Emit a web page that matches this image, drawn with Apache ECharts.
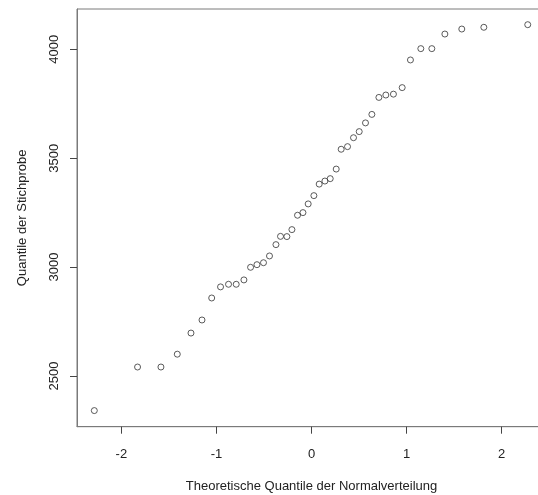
<!DOCTYPE html>
<html>
<head>
<meta charset="utf-8">
<script src="https://cdn.jsdelivr.net/npm/echarts@6/dist/echarts.min.js"></script>
<style>html,body{margin:0;padding:0;background:#fff}#c{width:538px;height:495px}</style>
</head>
<body>
<div id="c"></div>
<script>
// Theoretical quantiles
const theoretical = [-2.285,-1.83,-1.584,-1.412,-1.268,-1.152,-1.05,-0.957,-0.873,-0.792,-0.711,-0.641,-0.574,-0.505,-0.442,-0.374,-0.326,-0.259,-0.206,-0.147,-0.09,-0.035,
  0.025,0.081,0.141,0.197,0.26,0.312,0.379,0.442,0.502,0.568,0.635,0.709,0.782,0.862,0.954,1.041,1.15,1.266,1.403,1.581,1.813,2.275];
// Sample quantiles
const sample = [2341,2541,2541,2600,2697,2757,2858,2909,2921,2921,2941,2999,3011,3020,3051,3103,3141,3140,3172,3238,3250,3290,
  3328,3381,3395,3406,3450,3541,3553,3594,3622,3662,3701,3779,3790,3794,3824,3951,4003,4003,4070,4093,4101,4113];
const xTicks = [-2,-1,0,1,2];
const yTicks = [2500,3000,3500,4000];
const xTitle = 'Theoretische Quantile der Normalverteilung';
const yTitle = 'Quantile der Stichprobe';

const points = theoretical.map((x,i)=>[x,sample[i]]);
const chart = echarts.init(document.getElementById('c'), null, {renderer:'canvas'});
const font = 'Liberation Sans, Arial, sans-serif';
const axisCol = '#7a7a7a';
chart.setOption({
  animation:false,
  backgroundColor:'#fff',
  grid:{left:77, top:9, width:469, height:417.7, containLabel:false, outerBoundsMode:'none',
    show:true, borderColor:axisCol, borderWidth:1, backgroundColor:'transparent'},
  xAxis:{
    type:'value', min:-2.467, max:2.467,
    splitLine:{show:false},
    axisLine:{show:true, onZero:false, lineStyle:{color:axisCol}},
    axisTick:{show:true, length:7, inside:false, customValues:xTicks, lineStyle:{color:'#444'}},
    axisLabel:{customValues:xTicks, margin:21, color:'#222', fontFamily:font, fontSize:13, formatter:v=>String(v)},
    name:xTitle, nameLocation:'middle', nameGap:53,
    nameTextStyle:{color:'#222', fontFamily:font, fontSize:13}
  },
  yAxis:{
    type:'value', min:2267, max:4185,
    splitLine:{show:false},
    axisLine:{show:true, onZero:false, lineStyle:{color:axisCol}},
    axisTick:{show:true, length:7, inside:false, customValues:yTicks, lineStyle:{color:'#444'}},
    axisLabel:{customValues:yTicks, rotate:90, margin:16, color:'#222', fontFamily:font, fontSize:13, formatter:v=>String(v)},
    name:yTitle, nameLocation:'middle', nameGap:48, nameRotate:90,
    nameTextStyle:{color:'#222', fontFamily:font, fontSize:13}
  },
  series:[{
    type:'scatter', data:points, symbol:'circle', symbolSize:6,
    itemStyle:{color:'rgba(0,0,0,0)', borderColor:'#333', borderWidth:1},
    emphasis:{disabled:true}
  }]
});
</script>
</body>
</html>
